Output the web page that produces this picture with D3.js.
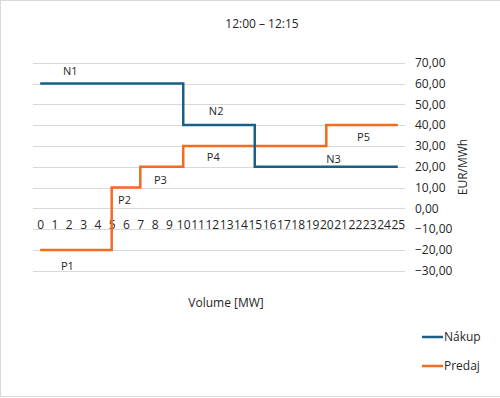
<!DOCTYPE html>
<html>
<head>
<meta charset="utf-8">
<script src="https://cdn.jsdelivr.net/npm/d3@7"></script>
<style>
  body { margin: 0; background: #fff; }
  text { font-family: "Open Sans", sans-serif; fill: #262626; }
</style>
</head>
<body>
<div class="chart"></div>
<script>
// volumes on the category axis
var volumes = d3.range(0, 26);
var priceTicks = [70, 60, 50, 40, 30, 20, 10, 0, -10, -20, -30];

// step curves: [volume, price] where each price holds until the next volume
var nakup = [[0, 60], [10, 40], [15, 20], [25, 20]];
var predaj = [[0, -20], [5, 10], [7, 20], [10, 30], [20, 40], [25, 40]];

// segment labels: [name, volume, price]
var nakupLabels = [["N1", 2.1, 66], ["N2", 12.3, 46.8], ["N3", 20.5, 23.7]];
var predajLabels = [["P1", 1.9, -27.7], ["P2", 5.9, 3.7], ["P3", 8.4, 13.6], ["P4", 12.1, 24.7], ["P5", 22.6, 34.4]];

const width = 500;
const height = 398;

var svg = d3.select(".chart").append("svg")
    .attr("width", width)
    .attr("height", height);

// chart border
svg.append("rect")
    .attr("x", 0.5).attr("y", 0.5)
    .attr("width", width).attr("height", 396)
    .attr("fill", "none")
    .attr("stroke", "#d9d9d9");

var x = d3.scaleLinear().domain([-0.5, 25.5]).range([33, 405]);
var y = d3.scaleLinear().domain([-30, 70]).range([270.7, 62.7]);

// grid
svg.append("g").selectAll("line")
    .data(priceTicks)
    .join("line")
    .attr("x1", x(-0.5)).attr("x2", x(25.5))
    .attr("y1", d => Math.round(y(d)) + 0.5)
    .attr("y2", d => Math.round(y(d)) + 0.5)
    .attr("stroke", "#d9d9d9");

// right axis
var yAxis = svg.append("g")
    .attr("transform", "translate(405,0)")
    .call(d3.axisRight(y).tickValues(priceTicks).tickSize(0).tickPadding(10)
        .tickFormat(d => d3.format(".2f")(d).replace(".", ",")));
yAxis.select(".domain").remove();
yAxis.selectAll("text").style("font-size", "12px").attr("fill", "#262626");

// volume axis labels sit just under the zero line
var xAxis = svg.append("g")
    .attr("transform", `translate(0,${y(0)})`)
    .call(d3.axisBottom(x).tickValues(volumes).tickSize(0).tickPadding(12).tickFormat(d3.format("d")));
xAxis.select(".domain").remove();
xAxis.selectAll("text").style("font-size", "12px").attr("fill", "#262626");

var line = d3.line()
    .x(d => x(d[0]))
    .y(d => y(d[1]))
    .curve(d3.curveStepAfter);

svg.append("path")
    .datum(predaj)
    .attr("d", line)
    .attr("fill", "none")
    .attr("stroke", "#f26b21")
    .attr("stroke-width", 2.5);

svg.append("path")
    .datum(nakup)
    .attr("d", line)
    .attr("fill", "none")
    .attr("stroke", "#1a5f86")
    .attr("stroke-width", 2.5);

svg.append("g").selectAll("text")
    .data(nakupLabels.concat(predajLabels))
    .join("text")
    .attr("x", d => x(d[1]))
    .attr("y", d => y(d[2]))
    .attr("dy", "0.35em")
    .attr("text-anchor", "middle")
    .style("font-size", "11px")
    .text(d => d[0]);

// title and axis titles
svg.append("text")
    .attr("x", 262).attr("y", 24).attr("dy", "0.35em")
    .attr("text-anchor", "middle")
    .style("font-size", "12px")
    .text("12:00 – 12:15");

svg.append("text")
    .attr("x", 226).attr("y", 303).attr("dy", "0.35em")
    .attr("text-anchor", "middle")
    .style("font-size", "12px")
    .text("Volume [MW]");

svg.append("text")
    .attr("transform", "translate(463,167) rotate(-90)")
    .attr("dy", "0.35em")
    .attr("text-anchor", "middle")
    .style("font-size", "12px")
    .text("EUR/MWh");

// legend
var legend = svg.append("g").selectAll("g")
    .data([["Nákup", "#1a5f86"], ["Predaj", "#f26b21"]])
    .join("g")
    .attr("transform", (d, i) => `translate(422,${337 + i * 29})`);

legend.append("line")
    .attr("x1", 0).attr("x2", 21)
    .attr("stroke", d => d[1])
    .attr("stroke-width", 2.5);

legend.append("text")
    .attr("x", 22).attr("dy", "0.35em")
    .style("font-size", "12px")
    .text(d => d[0]);
</script>
</body>
</html>
